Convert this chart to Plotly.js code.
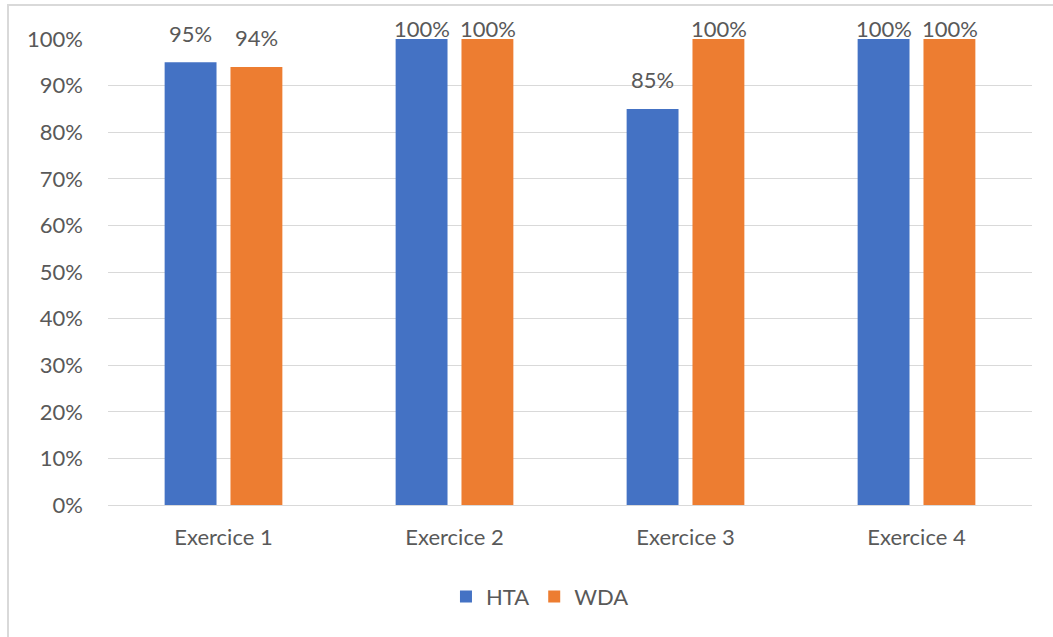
<!DOCTYPE html>
<html>
<head>
<meta charset="utf-8">
<script src="https://cdn.plot.ly/plotly-3.0.1.min.js"></script>
<style>
  html, body { margin: 0; padding: 0; background: #ffffff; }
  #wrap { position: relative; width: 1053px; height: 637px; overflow: hidden; }
  #chart { position: absolute; left: 0; top: 0; width: 1053px; height: 637px; }
  #frame { position: absolute; left: 7px; top: 4px; width: 1100px; height: 700px;
           border-left: 2px solid #d9d9d9; border-top: 2px solid #d9d9d9; pointer-events: none; }
</style>
</head>
<body>
<div id="wrap">
  <div id="chart"></div>
  <div id="frame"></div>
</div>
<script>
const categories = ["Exercice 1", "Exercice 2", "Exercice 3", "Exercice 4"];
const seriesNames = ["HTA", "WDA"];
const htaValues = [0.95, 1.00, 0.85, 1.00];
const wdaValues = [0.94, 1.00, 1.00, 1.00];
const yTickValues = [0, 0.1, 0.2, 0.3, 0.4, 0.5, 0.6, 0.7, 0.8, 0.9, 1.0];
const yTickLabels = ["0%", "10%", "20%", "30%", "40%", "50%", "60%", "70%", "80%", "90%", "100%"];

const colors = ["#4472C4", "#ED7D31"];
const fontFam = "Lato, 'Open Sans', sans-serif";
const txtColor = "#595959";

const allSeries = [htaValues, wdaValues];
const traces = allSeries.map((vals, i) => ({
  type: "bar",
  name: seriesNames[i],
  x: categories,
  y: vals,
  marker: { color: colors[i] },
  hoverinfo: "none"
}));

const annotations = [];
allSeries.forEach((vals, s) => {
  vals.forEach((v, c) => {
    annotations.push({
      x: categories[c], y: v, xref: "x", yref: "y",
      text: Math.round(v * 100) + "%",
      showarrow: false,
      xshift: s === 0 ? -33 : 33,
      yshift: v >= 1 ? 11 : 29,
      yanchor: "middle",
      font: { family: fontFam, size: 22, color: txtColor }
    });
  });
});

const layout = {
  width: 1053, height: 637,
  margin: { l: 108, r: 21, t: 39, b: 132 },
  paper_bgcolor: "rgba(0,0,0,0)",
  plot_bgcolor: "#ffffff",
  barmode: "group",
  bargap: 0.43,
  bargroupgap: 0.212,
  showlegend: true,
  legend: {
    orientation: "h", x: 0.4675, xanchor: "center", y: -0.197, yanchor: "middle",
    font: { family: fontFam, size: 22, color: txtColor },
    traceorder: "normal"
  },
  xaxis: {
    type: "category",
    showgrid: false,
    showline: false,
    zeroline: false,
    ticks: "",
    ticklabelstandoff: 17,
    tickfont: { family: fontFam, size: 22, color: txtColor }
  },
  yaxis: {
    range: [0, 1],
    tickvals: yTickValues,
    ticktext: yTickLabels,
    showgrid: true,
    gridcolor: "#d9d9d9",
    gridwidth: 1,
    zeroline: true,
    zerolinecolor: "#d9d9d9",
    zerolinewidth: 1,
    showline: false,
    ticks: "",
    ticklabelstandoff: 24,
    tickfont: { family: fontFam, size: 22, color: txtColor },
    fixedrange: true
  },
  annotations: annotations
};

Plotly.newPlot("chart", traces, layout, { staticPlot: true, displayModeBar: false });
</script>
</body>
</html>
